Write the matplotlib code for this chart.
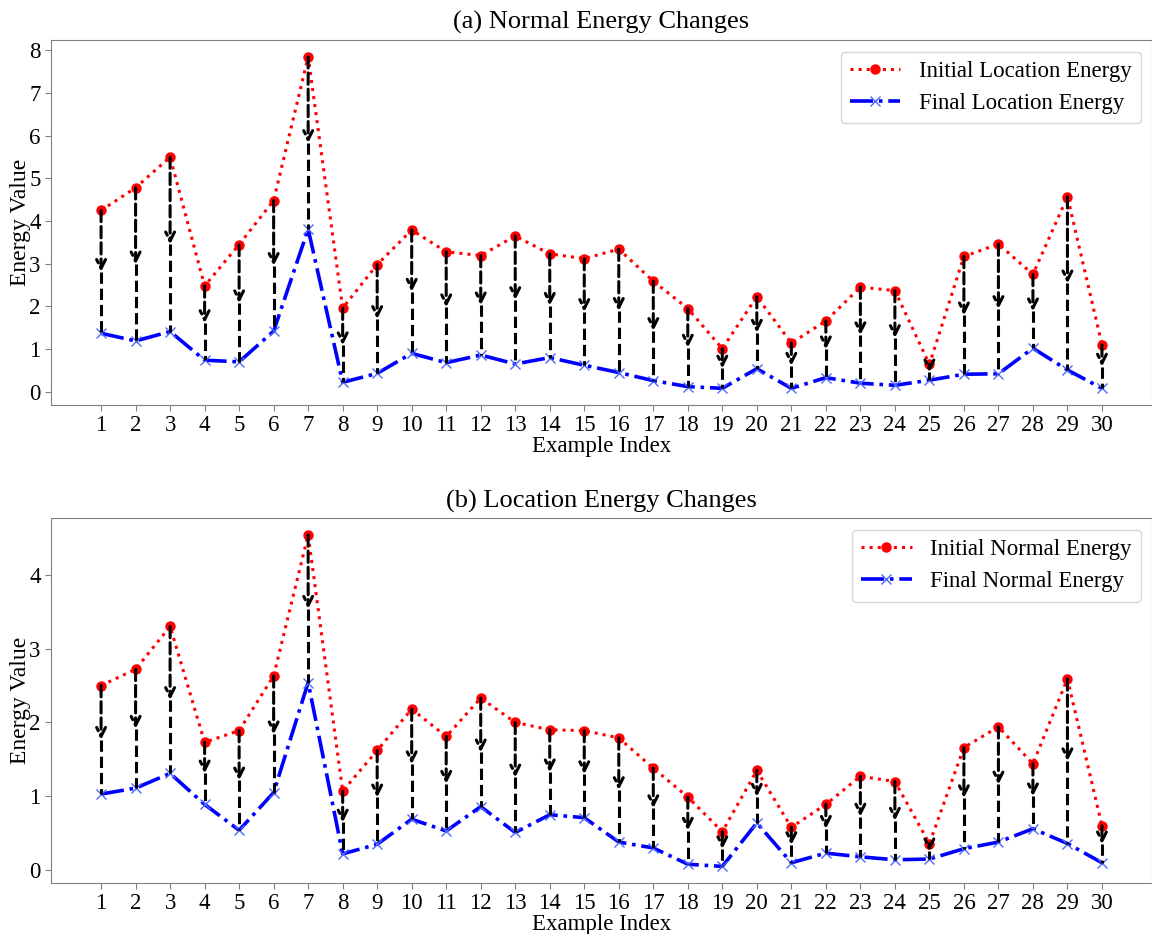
import numpy as np
import matplotlib
matplotlib.use("Agg")
import matplotlib.pyplot as plt
from matplotlib.ticker import MultipleLocator

# values
example_index = list(range(1, 31))

init_location = [4.25, 4.78, 5.50, 2.48, 3.45, 4.48, 7.85, 1.96, 2.98, 3.79,
                 3.28, 3.19, 3.65, 3.23, 3.12, 3.34, 2.59, 1.95, 1.01, 2.23,
                 1.14, 1.66, 2.45, 2.37, 0.64, 3.17, 3.46, 2.75, 4.57, 1.10]
final_location = [1.37, 1.19, 1.41, 0.74, 0.70, 1.42, 3.81, 0.22, 0.43, 0.90,
                  0.68, 0.86, 0.65, 0.80, 0.62, 0.45, 0.26, 0.12, 0.08, 0.54,
                  0.08, 0.33, 0.20, 0.15, 0.27, 0.41, 0.42, 1.02, 0.51, 0.08]

init_normal = [2.50, 2.72, 3.30, 1.73, 1.89, 2.63, 4.54, 1.07, 1.62, 2.18,
               1.81, 2.33, 2.00, 1.90, 1.89, 1.79, 1.38, 0.99, 0.52, 1.35,
               0.58, 0.89, 1.27, 1.20, 0.36, 1.66, 1.94, 1.44, 2.59, 0.60]
final_normal = [1.03, 1.11, 1.31, 0.89, 0.54, 1.05, 2.54, 0.22, 0.35, 0.69,
                0.53, 0.86, 0.51, 0.75, 0.71, 0.38, 0.30, 0.08, 0.05, 0.64,
                0.10, 0.23, 0.18, 0.14, 0.15, 0.29, 0.38, 0.56, 0.36, 0.10]

panels = [
    ("(a) Normal Energy Changes", init_location, final_location,
     "Initial Location Energy", "Final Location Energy"),
    ("(b) Location Energy Changes", init_normal, final_normal,
     "Initial Normal Energy", "Final Normal Energy"),
]

plt.rcParams["font.family"] = ["Liberation Serif", "DejaVu Serif"]
plt.rcParams["mathtext.fontset"] = "stix"

fig = plt.figure(figsize=(11.52, 9.34), dpi=100)
ax_top = fig.add_axes([0.0443, 0.5665, 0.9557, 0.3905])
ax_bot = fig.add_axes([0.0443, 0.0546, 0.9557, 0.3905])

spine_col = "#808080"

for ax, (title, init, final, lab_i, lab_f) in zip([ax_top, ax_bot], panels):
    x = np.array(example_index)
    init = np.array(init)
    final = np.array(final)

    ax.plot(x, init, color="red", linestyle=":", linewidth=2.2, marker="o",
            markersize=6.5, label=lab_i, zorder=3)
    ax.plot(x, final, color="blue", linestyle="-.", linewidth=2.6, marker="x",
            markersize=7, markeredgewidth=1.0, markeredgecolor="#4d6bff",
            label=lab_f, zorder=3)

    # dashed arrows from initial to final value, head at the midpoint
    for xi, a, b in zip(x, init, final):
        mid = (a + b) / 2
        ax.annotate("", xy=(xi, mid), xytext=(xi, a),
                    arrowprops=dict(arrowstyle="->", color="black", lw=2.2,
                                    linestyle="--", mutation_scale=16,
                                    shrinkA=0, shrinkB=0), zorder=4)
        ax.plot([xi, xi], [mid, b], color="black", linestyle="--",
                linewidth=2.2, zorder=4)

    ax.set_xticks(x)
    ax.set_xticklabels([str(v) for v in example_index])
    ax.yaxis.set_major_locator(MultipleLocator(1))
    ax.tick_params(axis="both", labelsize=16.5, color=spine_col, length=4)
    ax.tick_params(axis="x", pad=3)
    for s in ax.spines.values():
        s.set_color(spine_col)
    ax.set_title(title, fontsize=19, pad=8)
    ax.set_xlabel("Example Index", fontsize=16.5, labelpad=0)
    ax.set_ylabel("Energy Value", fontsize=17, labelpad=-1)
    ax.legend(loc="upper right", fontsize=16.5, handlelength=2.2)

plt.savefig("out.png", dpi=100)
